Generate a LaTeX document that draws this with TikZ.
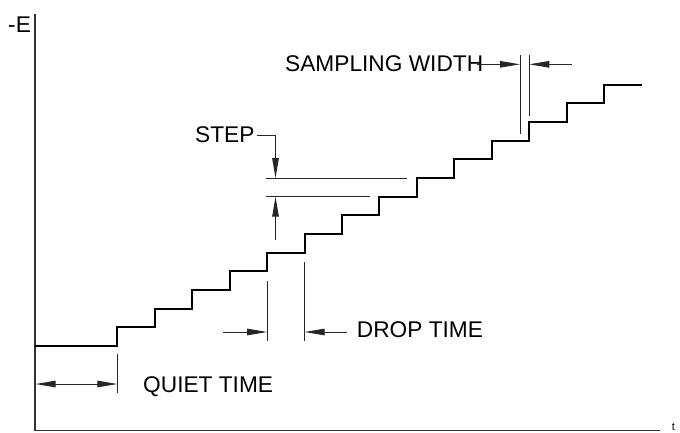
\documentclass[tikz,border=0pt]{standalone}
\usepackage{fontspec}
\setmainfont{Liberation Sans}
\usetikzlibrary{arrows.meta}
\begin{document}
\begin{tikzpicture}[x=1bp,y=-1bp,
  lbl/.style={inner sep=0pt,anchor=base west,font=\fontsize{22.7bp}{27bp}\selectfont},
  thin line/.style={line width=1bp,draw=black!85},
  axisline/.style={line width=1.3bp,draw=black!80},
  stair/.style={line width=2bp,draw=black,line join=miter},
  dimarrow/.style={thin line,-{Triangle[length=20bp,width=6.5bp]}},
  dimdarrow/.style={thin line,{Triangle[length=20bp,width=6.5bp]}-{Triangle[length=20bp,width=6.5bp]}}]
\useasboundingbox (0,0) rectangle (680,432);
% axes
\coordinate (top) at (35,14);
\coordinate (origin) at (35,430.5);
\coordinate (tend) at (660,430.5);
\draw[axisline] (top) -- (origin) -- (tend);
\node[lbl] (E) at (8,32) {-E};
\node[inner sep=0pt,anchor=base,font=\fontsize{11bp}{13bp}\selectfont] (t) at (673.5,430.5) {t};
% staircase
\draw[stair] (35,346) foreach \k in {0,...,13} { -- ({117.3+37.45*\k},{346-18.66*\k}) -- ({117.3+37.45*\k},{346-18.66*(\k+1)}) } -- (641.7,{346-18.66*14});
% quiet time
\coordinate (q1) at (35.6,384);
\coordinate (q2) at (117.3,384);
\draw[thin line] (117.3,354) -- (117.3,393);
\draw[dimdarrow] (q1) -- (q2);
\node[lbl] (quiet) at (143,392) {QUIET TIME};
% drop time
\draw[thin line] (267.1,281) -- (267.1,341);
\draw[thin line] (304.55,262) -- (304.55,341);
\coordinate (d1) at (223,332);
\coordinate (d2) at (267.1,332);
\coordinate (d3) at (346.7,332);
\coordinate (d4) at (304.55,332);
\draw[dimarrow] (d1) -- (d2);
\draw[dimarrow] (d3) -- (d4);
\node[lbl] (drop) at (356.7,337.7) {DROP TIME};
% step
\node[lbl] (step) at (195,142.3) {STEP};
\coordinate (s0) at (256.7,135.7);
\coordinate (s1) at (275.5,135.7);
\coordinate (s2) at (275.5,178.06);
\coordinate (s3) at (275.5,240);
\coordinate (s4) at (275.5,196.7);
\draw[thin line] (266,178.06) -- (407,178.06);
\draw[thin line] (266,196.7) -- (370,196.7);
\draw[dimarrow] (s0) -- (s1) -- (s2);
\draw[dimarrow] (s3) -- (s4);
% sampling width
\node[lbl] (samp) at (285,71.7) {SAMPLING WIDTH};
\draw[thin line] (520,55) -- (520,134);
\draw[thin line] (529.25,55) -- (529.25,116);
\coordinate (w1) at (476.7,64.3);
\coordinate (w2) at (520,64.3);
\coordinate (w3) at (571.7,64.3);
\coordinate (w4) at (529.25,64.3);
\draw[dimarrow] (w1) -- (w2);
\draw[dimarrow] (w3) -- (w4);
\end{tikzpicture}
\end{document}
